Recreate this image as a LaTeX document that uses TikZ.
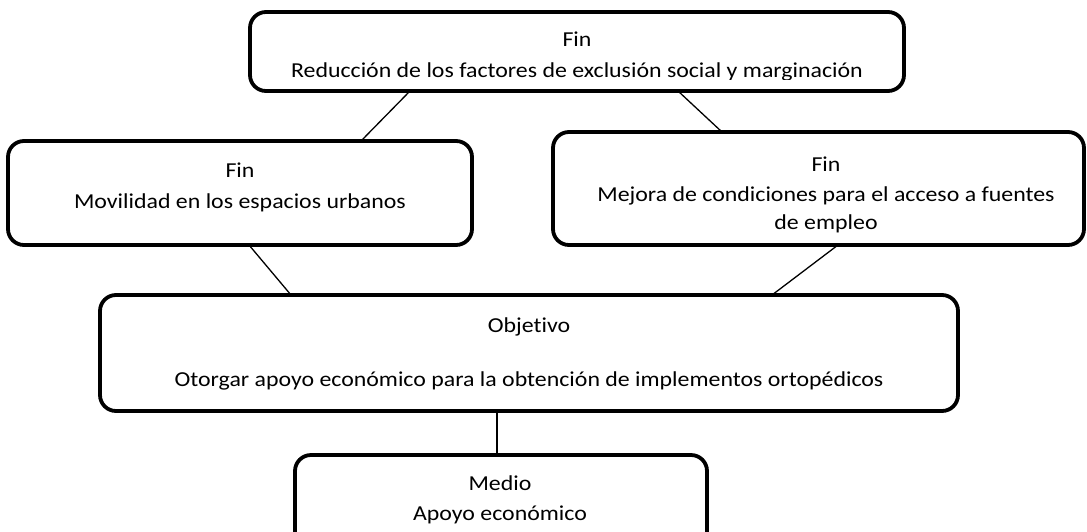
\documentclass[tikz,border=0pt]{standalone}
\usepackage{fontspec}
\setmainfont{Carlito}[FakeStretch=1.12, Ligatures=NoCommon]
\usetikzlibrary{calc}
\begin{document}
\begin{tikzpicture}[x=1pt,y=-1pt,
  box/.style={draw, line width=3.8pt, rounded corners=16pt, inner sep=0pt, outer sep=0pt},
  link/.style={draw, line width=1.3pt},
  txt/.style={anchor=base, inner sep=0pt, font=\fontsize{21.3}{25}\selectfont}]
\useasboundingbox (0,0) rectangle (1087,531);
\clip (0,0) rectangle (1087,531);
% boxes
\node[box, minimum width=654pt, minimum height=79pt] (top) at (577,51.5) {};
\node[box, minimum width=464pt, minimum height=104pt] (left) at (240,193) {};
\node[box, minimum width=531pt, minimum height=113pt] (right) at (818.5,188.5) {};
\node[box, minimum width=858pt, minimum height=116pt] (obj) at (529,353) {};
\node[box, minimum width=412pt, minimum height=105pt] (medio) at (501,507.5) {};
% connectors
\draw[link] ([xshift=-167pt]top.south) -- ([xshift=121pt]left.north);
\draw[link] ([xshift=101pt]top.south) -- ([xshift=-96.5pt]right.north);
\draw[link] ([xshift=9pt]left.south) -- ([xshift=-238pt]obj.north);
\draw[link] ([xshift=19.5pt]right.south) -- ([xshift=243pt]obj.north);
\draw[link] ([xshift=-32pt]obj.south) -- ([xshift=-4pt]medio.north);
% texts
\node[txt] (t1a) at (577,46) {Fin};
\begin{scope}
\clip ([xshift=2pt]top.north west) rectangle ([xshift=-2pt,yshift=11.5pt]top.south east);
\node[txt] (t1b) at (577,77) {Reducción de los factores de exclusión social y marginación};
\end{scope}
\node[txt] (t2a) at (240,177) {Fin};
\node[txt] (t2b) at (240,208) {Movilidad en los espacios urbanos};
\node[txt] (t3a) at (826,171) {Fin};
\node[txt] (t3b) at (826,201) {Mejora de condiciones para el acceso a fuentes};
\begin{scope}
\clip ([xshift=2pt]right.north west) rectangle ([xshift=-2pt,yshift=13pt]right.south east);
\node[txt] (t3c) at (826,229) {de empleo};
\end{scope}
\node[txt] (t4a) at (529,332) {Objetivo};
\node[txt] (t4b) at (529,386) {Otorgar apoyo económico para la obtención de implementos ortopédicos};
\node[txt] (t5a) at (500,490) {Medio};
\node[txt] (t5b) at (500,520) {Apoyo económico};
\end{tikzpicture}
\end{document}
